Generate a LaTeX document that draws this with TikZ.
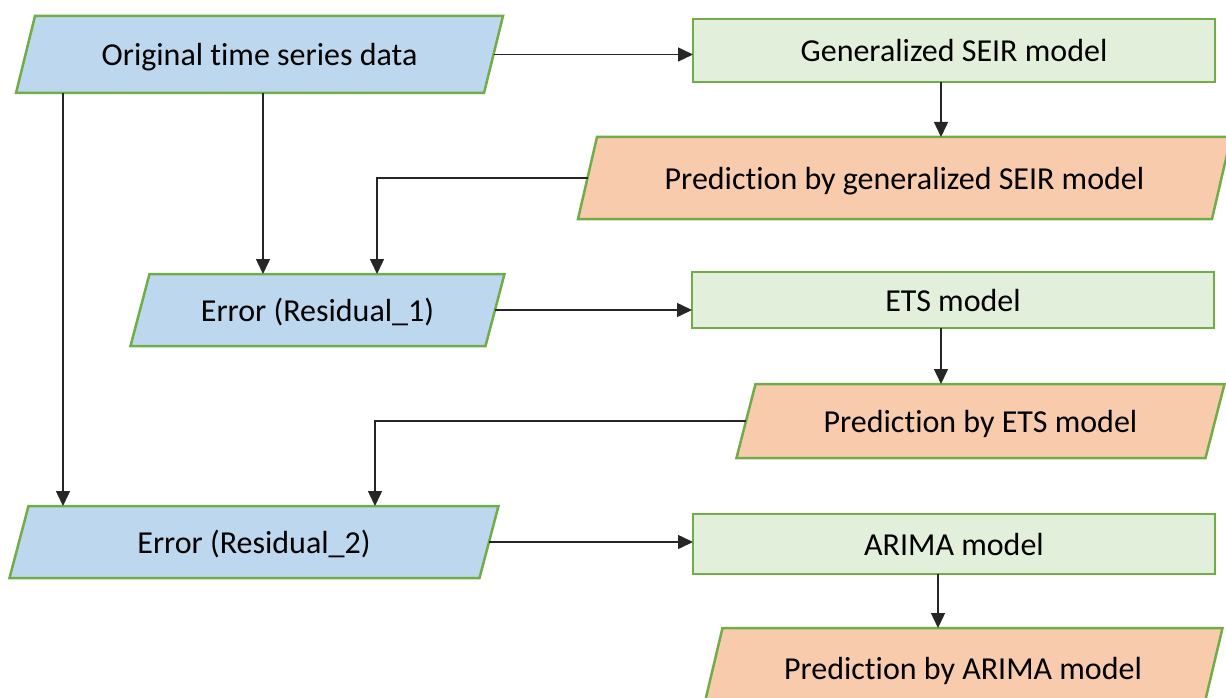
\documentclass[tikz,border=0pt]{standalone}
\usepackage{fontspec}
\setmainfont[Ligatures=NoCommon]{Carlito}
\usetikzlibrary{arrows.meta,backgrounds}
\definecolor{boxgreen}{HTML}{70AD47}
\definecolor{datblue}{HTML}{BDD7EE}
\definecolor{modgreen}{HTML}{E2EFDA}
\definecolor{predorange}{HTML}{F8CBAD}
\begin{document}
\begin{tikzpicture}[x=1pt,y=-1pt,
    font=\fontsize{32}{38}\selectfont,
    every node/.style={inner sep=0pt,outer sep=0pt,text height=22pt,text depth=0pt},
    parabox/.style={rectangle},
    modbox/.style={rectangle,draw=boxgreen,line width=2.5pt,fill=modgreen,minimum width=522pt},
    paraline/.style={draw=boxgreen,line width=2.5pt,line join=miter},
    arr/.style={-{Triangle[length=15pt,width=14pt]},line width=1.5pt,draw=black!85}]
	\useasboundingbox (0,0) rectangle (1226,698);
	\clip (0,0) rectangle (1226,698);

	% data and residuals
	\node[parabox,minimum width=468pt,minimum height=77pt] (orig) at (259.5,54.5) {Original time series data};
	\node[parabox,minimum width=355pt,minimum height=72pt] (err1) at (317.5,310) {Error (Residual\_1)};
	\node[parabox,minimum width=470pt,minimum height=72pt] (err2) at (254,542) {Error (Residual\_2)};

	% models
	\node[modbox,minimum height=63pt] (seir) at (954,50.5) {Generalized SEIR model};
	\node[modbox,minimum height=56pt] (ets) at (953,300) {ETS model};
	\node[modbox,minimum height=60pt] (arima) at (954,544) {ARIMA model};

	% predictions
	\node[parabox,minimum width=634pt,minimum height=82pt] (pseir) at (904.5,178) {Prediction by generalized SEIR model};
	\node[parabox,minimum width=469pt,minimum height=74pt] (pets) at (980.5,421) {Prediction by ETS model};
	\node[parabox,minimum width=500pt,minimum height=80pt] (parima) at (963,668) {Prediction by ARIMA model};

	% parallelograms behind the texts
	\begin{scope}[on background layer]
	\foreach \n/\col in {orig/datblue,err1/datblue,err2/datblue,pseir/predorange,pets/predorange,parima/predorange} {
		\draw[paraline,fill=\col] ([xshift=9.5pt]\n.north west) -- ([xshift=9.5pt]\n.north east)
			-- ([xshift=-9.5pt]\n.south east) -- ([xshift=-9.5pt]\n.south west) -- cycle;}
	\end{scope}

	\coordinate (xa) at (63,0);
	\coordinate (xb) at (263,0);
	\coordinate (xc) at (377,0);
	\coordinate (xd) at (375,0);
	\coordinate (xe) at (941,0);
	\coordinate (xf) at (938,0);

	\foreach \src/\dst in {orig/seir,err1/ets,err2/arima} {
		\draw[arr] (\src.east) -- (\src.east -| \dst.west);}
	\foreach \src/\dst/\X in {seir/pseir/xe,ets/pets/xe,arima/parima/xf} {
		\draw[arr] (\src.south -| \X) -- (\dst.north -| \X);}

	\draw[arr] (orig.south -| xa) -- (err2.north -| xa);
	\draw[arr] (orig.south -| xb) -- (err1.north -| xb);
	\draw[arr] (pseir.west) -| (err1.north -| xc);
	\draw[arr] (pets.west) -| (err2.north -| xd);
\end{tikzpicture}
\end{document}
